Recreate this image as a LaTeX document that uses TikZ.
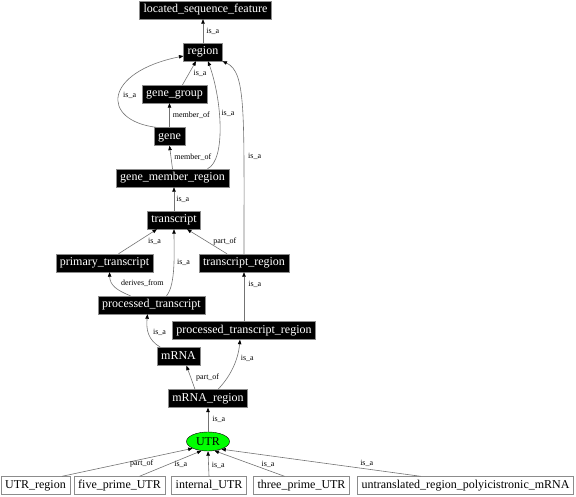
\documentclass[tikz,border=0pt]{standalone}
\usepackage{fontspec}
\setmainfont{Liberation Serif}
\usepackage{tikz}
\usetikzlibrary{arrows.meta, positioning, shapes.geometric}

\begin{document}
\begin{tikzpicture}[x=1pt, y=-1pt]
    % Block styles
    \tikzstyle{term} = [rectangle, draw=black!45, fill=black, text=white, font=\fontsize{12}{14}\selectfont, inner xsep=4pt, inner ysep=0pt, text height=8.5pt, text depth=2.5pt, minimum height=18pt]
    \tikzstyle{term_plain} = [term, fill=white, text=black]
    \tikzstyle{term_focus} = [ellipse, draw=black, fill=green, text=black, font=\fontsize{12}{14}\selectfont, inner sep=0pt, minimum width=43pt, minimum height=19pt]
    \tikzstyle{rel} = [draw=black!55, line width=0.6pt, -{Triangle[length=4.5pt, width=3.5pt, color=black]}]
    \tikzstyle{rel_label} = [font=\fontsize{8}{9}\selectfont, inner sep=1pt, text=black]
    \useasboundingbox (0,0) rectangle (576,497);
    % Terms
    \node[term] (located_sequence_feature) at (205.5,10) {located\_sequence\_feature};
    \node[term] (region) at (203,52) {region};
    \node[term] (gene_group) at (174.5,94) {gene\_group};
    \node[term] (gene) at (169.5,136.5) {gene};
    \node[term] (gene_member_region) at (172.5,178) {gene\_member\_region};
    \node[term] (transcript) at (174,220) {transcript};
    \node[term] (primary_transcript) at (104.5,263) {primary\_transcript};
    \node[term] (transcript_region) at (244,263) {transcript\_region};
    \node[term] (processed_transcript) at (151.5,305) {processed\_transcript};
    \node[term] (processed_transcript_region) at (244,330.5) {processed\_transcript\_region};
    \node[term] (mRNA) at (178.5,356.5) {mRNA};
    \node[term] (mRNA_region) at (208,398.5) {mRNA\_region};
    \node[term_focus] (UTR) at (208,441.5) {UTR};
    % Children of UTR
    \node[term_plain] (UTR_region) at (35.5,485.5) {UTR\_region};
    \node[term_plain] (five_prime_UTR) at (119.5,485.5) {five\_prime\_UTR};
    \node[term_plain] (internal_UTR) at (209,485.5) {internal\_UTR};
    \node[term_plain] (three_prime_UTR) at (301.5,485.5) {three\_prime\_UTR};
    \node[term_plain] (untranslated_region) at (465.5,485.5) {untranslated\_region\_polyicistronic\_mRNA};
    % Connections
    \draw[rel] (region.north) -- (region.north |- located_sequence_feature.south) node[rel_label, midway, right=2pt] {is\_a};
    \draw[rel] ([xshift=8pt]gene_group.north) -- ([xshift=-7pt]region.south) node[rel_label, midway, right=3pt] {is\_a};
    \draw[rel] ([xshift=2pt]gene.north west) .. controls (100,120) and (104,72) .. ([yshift=-4pt]region.west) node[rel_label, pos=0.5, right=3pt] {is\_a};
    \draw[rel] (gene.north) -- (gene.north |- gene_group.south) node[rel_label, midway, right=2pt] {member\_of};
    \draw[rel] (gene_member_region.north) -- (gene.south) node[rel_label, midway, right=2pt] {member\_of};
    \draw[rel] ([xshift=35pt]gene_member_region.north) .. controls (226,160) and (222,100) .. ([xshift=5pt]region.south) node[rel_label, pos=0.6, right=1pt] {is\_a};
    \draw[rel] (transcript_region.north) .. controls (244,110) and (246,72) .. (region.south east) node[rel_label, pos=0.28, right=3pt] {is\_a};
    \draw[rel] (transcript.north) -- (transcript.north |- gene_member_region.south) node[rel_label, midway, right=1pt] {is\_a};
    \draw[rel] ([xshift=14pt]primary_transcript.north) -- ([xshift=-17pt]transcript.south) node[rel_label, midway, right=9pt] {is\_a};
    \draw[rel] ([xshift=-17pt]transcript_region.north) -- ([xshift=13pt]transcript.south) node[rel_label, midway, right=5pt] {part\_of};
    \draw[rel] ([xshift=-21pt]processed_transcript.north) .. controls (116,290) and (110,285) .. ([xshift=5pt]primary_transcript.south) node[rel_label, pos=0.5, right=5pt, yshift=3pt] {derives\_from};
    \draw[rel] ([xshift=15pt]processed_transcript.north) .. controls (176,285) and (174,250) .. (transcript.south) node[rel_label, pos=0.5, right=2pt, yshift=4pt] {is\_a};
    \draw[rel] (processed_transcript_region.north) -- (transcript_region.south) node[rel_label, pos=0.76, right=3pt] {is\_a};
    \draw[rel] ([xshift=-18pt]mRNA.north) .. controls (148,340) and (146,330) .. ([xshift=-4pt]processed_transcript.south) node[rel_label, pos=0.5, right=3pt, yshift=2pt] {is\_a};
    \draw[rel] ([xshift=-13pt]mRNA_region.north) -- ([xshift=8pt]mRNA.south) node[rel_label, midway, right=4pt] {part\_of};
    \draw[rel] ([xshift=10pt]mRNA_region.north) .. controls (229,378) and (238,362) .. ([xshift=-4pt]processed_transcript_region.south) node[rel_label, pos=0.65, right=4pt, yshift=3pt] {is\_a};
    \draw[rel] (UTR.north) -- (mRNA_region.south) node[rel_label, midway, right=3pt] {is\_a};
    \draw[rel] ([xshift=-8pt]UTR_region.north east) -- (UTR.south west) node[rel_label, pos=0.45, right=8pt] {part\_of};
    \draw[rel] ([xshift=20pt]five_prime_UTR.north) -- (UTR.235) node[rel_label, pos=0.46, right=5pt] {is\_a};
    \draw[rel] (internal_UTR.north) -- (UTR.south) node[rel_label, pos=0.45, right=2pt] {is\_a};
    \draw[rel] ([xshift=-17pt]three_prime_UTR.north) -- (UTR.305) node[rel_label, pos=0.46, right=8pt] {is\_a};
    \draw[rel] ([xshift=-45pt]untranslated_region.north) -- (UTR.330) node[rel_label, pos=0.27, above=1pt] {is\_a};
\end{tikzpicture}
\end{document}
